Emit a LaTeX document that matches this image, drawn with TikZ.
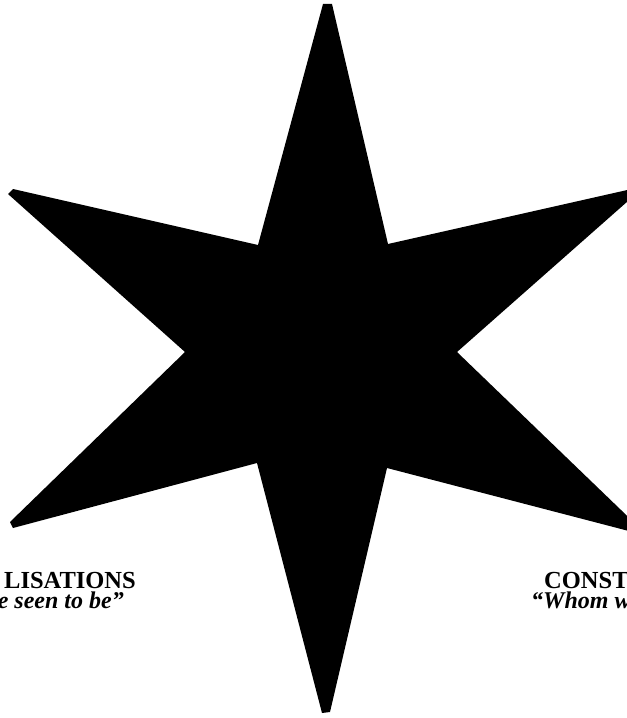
\documentclass[tikz,border=0pt]{standalone}
\usepackage{fontspec}
\setmainfont{Liberation Serif}
\begin{document}
\begin{tikzpicture}[x=1bp,y=-1bp,
  lbl/.style={inner sep=0pt,font=\fontsize{24.5bp}{26bp}\selectfont\bfseries},
  quote/.style={inner sep=0pt,font=\fontsize{24bp}{26bp}\selectfont\bfseries\itshape}]
\useasboundingbox (0,0) rectangle (627,718);
\fill[black] (323,4) -- (332,4) -- (388,244) -- (645,186) -- (457,352) -- (648,536)
  -- (387,468) -- (330,712) -- (322,713) -- (257,463) -- (13,528) -- (10,522)
  -- (185,352) -- (8,194) -- (13,189) -- (258,245) -- cycle;
\node[lbl,anchor=base east] (l1) at (136,588) {LISATIONS};
\node[quote,anchor=base east] (l2) at (124,608) {e seen to be”};
\node[lbl,anchor=base west] (r1) at (544,588) {CONST};
\node[quote,anchor=base west] (r2) at (531,608) {“Whom we};
\end{tikzpicture}
\end{document}
